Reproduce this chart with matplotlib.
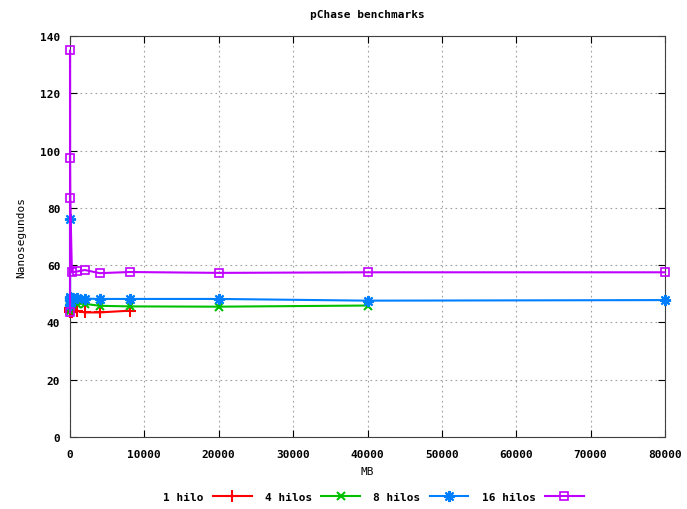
import matplotlib
matplotlib.use("Agg")
from matplotlib import pyplot as plt

# MB sizes and latencies (ns)
mb_1 = [1, 2, 4, 8, 16, 64, 256, 1000, 2000, 4000, 8000]
ns_1 = [44, 45, 44.5, 44, 43.8, 44, 43.5, 44, 43.5, 43.5, 44.1]

mb_4 = [1, 2, 4, 8, 16, 64, 256, 1000, 2000, 4000, 8000, 20000, 40000]
ns_4 = [44, 47, 46, 45.5, 46, 46.5, 46.5, 46.5, 46.5, 45.8, 45.6, 45.5, 45.9]

mb_8 = [1, 2, 8, 16, 64, 256, 1000, 2000, 4000, 8000, 20000, 40000, 80000]
ns_8 = [46, 76, 49, 48.5, 48, 48.5, 48.5, 48.3, 48.2, 48.2, 48.2, 47.6, 47.8]

mb_16 = [1, 2, 8, 32, 256, 1000, 2000, 4000, 8000, 20000, 40000, 80000]
ns_16 = [43.5, 135, 97.5, 83.5, 57.5, 57.8, 58.3, 57.2, 57.6, 57.3, 57.5, 57.5]

labels = ["1 hilo", "4 hilos", "8 hilos", "16 hilos"]
colors = ["#ff0000", "#00c000", "#0080ff", "#c000ff"]

plt.rcParams['font.family'] = ['DejaVu Sans Mono']
plt.rcParams['font.weight'] = 'bold'
plt.rcParams['font.size'] = 8

fig = plt.figure(figsize=(6.87, 5.10), dpi=100)
ax = fig.add_axes([70 / 687, 72 / 510, 595 / 687, 401 / 510])

ax.plot(mb_1, ns_1, color=colors[0], lw=1.5, marker='+', ms=9, mew=1.5,
        label=labels[0], clip_on=False, zorder=3)
ax.plot(mb_4, ns_4, color=colors[1], lw=1.5, marker='x', ms=6, mew=1.5,
        label=labels[1], clip_on=False, zorder=3)
ax.plot(mb_8, ns_8, color=colors[2], lw=1.5, marker=(8, 2, 0), ms=8, mew=1.5,
        label=labels[2], clip_on=False, zorder=3)
ax.plot(mb_16, ns_16, color=colors[3], lw=1.5, marker='s', ms=6, mew=1.2,
        fillstyle='none', label=labels[3], clip_on=False, zorder=3)

ax.set_xlim(0, 80000)
ax.set_ylim(0, 140)
ax.set_xticks(range(0, 80001, 10000))
ax.set_yticks(range(0, 141, 20))
ax.tick_params(direction='in', top=True, right=True, length=5, pad=7)
ax.tick_params(axis='x', pad=9)
ax.grid(True, color='#a0a0a0', linestyle=(0, (1.5, 3)), lw=0.8)
for s in ax.spines.values():
    s.set_color('#404040')

ax.set_title("pChase benchmarks", pad=14, fontsize=8, fontweight='bold')
ax.set_xlabel("MB", labelpad=5)
ax.set_ylabel("Nanosegundos", labelpad=10)

ax.legend(loc='upper center', bbox_to_anchor=(0.51, -0.113), ncol=4, frameon=False,
          markerfirst=False, handlelength=3.5, columnspacing=1.2, handletextpad=0.8)

fig.savefig("out.png", dpi=100)
